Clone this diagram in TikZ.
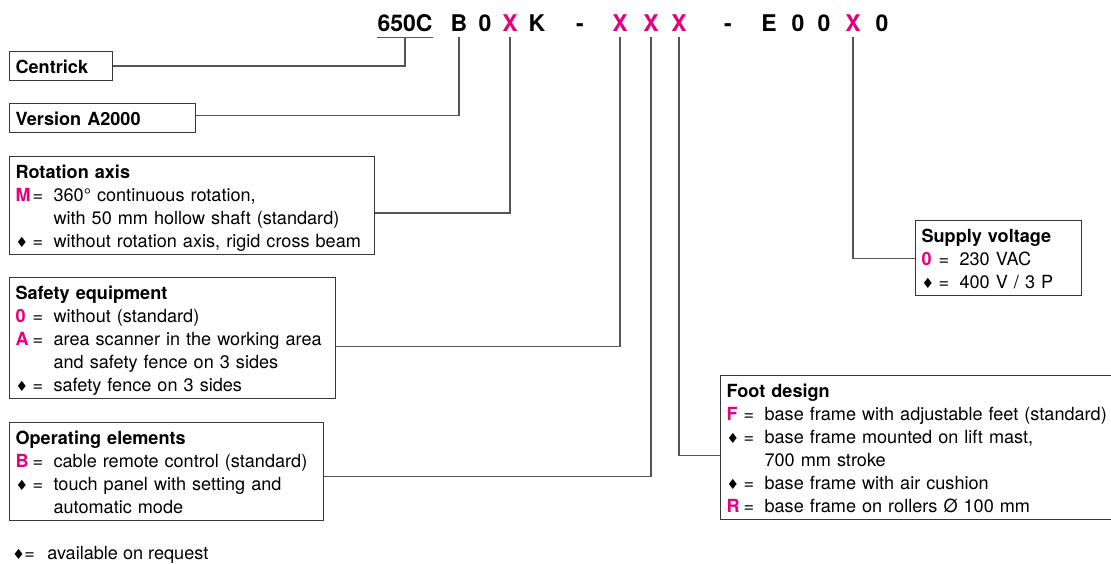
\documentclass[tikz,border=0pt]{standalone}
\usepackage{fontspec}
\setmainfont{TeX Gyre Heros}
\newfontfamily\symfont{DejaVu Sans}
\usepackage{xcolor}
\usepackage{tikz}
\usetikzlibrary{positioning,calc}

\definecolor{keypink}{RGB}{230,0,126}
\definecolor{framegray}{RGB}{55,55,55}
\definecolor{leadgray}{RGB}{85,85,85}

\newcommand{\codefont}{\fontsize{23}{23}\selectfont\bfseries}
\newcommand{\boxfont}{\fontsize{18.1}{23}\selectfont\lineskiplimit=-100pt}
\newcommand{\boxstrut}{\rule[-7pt]{0pt}{29pt}}
\newcommand{\dia}{{\symfont\fontsize{14}{14}\selectfont ♦}}
\newcommand{\kc}[1]{\textcolor{keypink}{\textbf{#1}}}
\newcommand{\titleline}[1]{\boxstrut\textbf{#1}}
\newcommand{\optline}[2]{\boxstrut\mbox{\makebox[17pt][l]{#1}\makebox[21pt][l]{=}#2}}
\newcommand{\contline}[1]{\boxstrut\mbox{\hspace*{38pt}#1}}

\begin{document}
\begin{tikzpicture}[x=1pt, y=-1pt, semithick]
\tikzstyle{codechar}=[font=\codefont, inner xsep=0pt, inner ysep=5pt, anchor=base]
\tikzstyle{keychar}=[codechar, text=keypink]
\tikzstyle{infobox}=[draw=framegray, line width=1.2pt, anchor=north west, align=left, inner xsep=6pt, inner ysep=0pt, font=\boxfont]
\tikzstyle{lead}=[draw=leadgray, line width=1.2pt]

\useasboundingbox (0,0) rectangle (1111,564);

% Order code
\node[codechar] (c650) at (405,32) {650C};
\node[codechar] (cB) at (459,32) {B};
\node[codechar] (c0a) at (485,32) {0};
\node[keychar] (cRot) at (510,32) {X};
\node[codechar] (cK) at (537,32) {K};
\node[codechar] (cDa) at (580,32) {-};
\node[keychar] (cSafe) at (620,32) {X};
\node[keychar] (cOper) at (651,32) {X};
\node[keychar] (cFoot) at (679,32) {X};
\node[codechar] (cDb) at (728,32) {-};
\node[codechar] (cE) at (769,32) {E};
\node[codechar] (c0b) at (798,32) {0};
\node[codechar] (c0c) at (824,32) {0};
\node[keychar] (cVolt) at (853,32) {X};
\node[codechar] (c0d) at (882,32) {0};

% Option boxes
\node[infobox, text width=91pt] (ctr) at (9,51) {\titleline{Centrick}};
\node[infobox, text width=174pt] (ver) at (9,103) {\titleline{Version A2000}};
\node[infobox, text width=353pt] (rot) at (9,156) {\titleline{Rotation axis}\\
  \optline{\kc{M}}{360° continuous rotation,}\\
  \contline{with 50 mm hollow shaft (standard)}\\
  \optline{\dia}{without rotation axis, rigid cross beam}};
\node[infobox, text width=314pt] (safe) at (9,277) {\titleline{Safety equipment}\\
  \optline{\kc{0}}{without (standard)}\\
  \optline{\kc{A}}{area scanner in the working area}\\
  \contline{and safety fence on 3 sides}\\
  \optline{\dia}{safety fence on 3 sides}};
\node[infobox, text width=302pt] (oper) at (9,422) {\titleline{Operating elements}\\
  \optline{\kc{B}}{cable remote control (standard)}\\
  \optline{\dia}{touch panel with setting and}\\
  \contline{automatic mode}};
\node[infobox, text width=154pt] (volt) at (915,220) {\titleline{Supply voltage}\\
  \optline{\kc{0}}{230 VAC}\\
  \optline{\dia}{400 V / 3 P}};
\node[infobox, text width=383pt] (foot) at (720,375) {\titleline{Foot design}\\
  \optline{\kc{F}}{base frame with adjustable feet (standard)}\\
  \optline{\dia}{base frame mounted on lift mast,}\\
  \contline{700 mm stroke}\\
  \optline{\dia}{base frame with air cushion}\\
  \optline{\kc{R}}{base frame on rollers Ø 100 mm}};

\node[font=\boxfont, anchor=base west, inner sep=0pt] (note) at (12,559)
  {\makebox[12pt][l]{\dia}\makebox[23pt][l]{=}available on request};

% Leader lines
\draw[lead] (c650.south west) -- (c650.south east);
\draw[lead] (c650.south) |- (ctr.east);
\draw[lead] (cB.south) |- ([yshift=2.5pt]ver.east);
\draw[lead] (cRot.south) |- ([yshift=-7.5pt]rot.east);
\draw[lead] (cSafe.south) |- ([yshift=-8.5pt]safe.east);
\draw[lead] (cOper.south) |- ([yshift=-4.5pt]oper.east);
\draw[lead] (cFoot.south) |- ([yshift=-8pt]foot.west);
\draw[lead] (cVolt.south) |- (volt.west);
\end{tikzpicture}
\end{document}
